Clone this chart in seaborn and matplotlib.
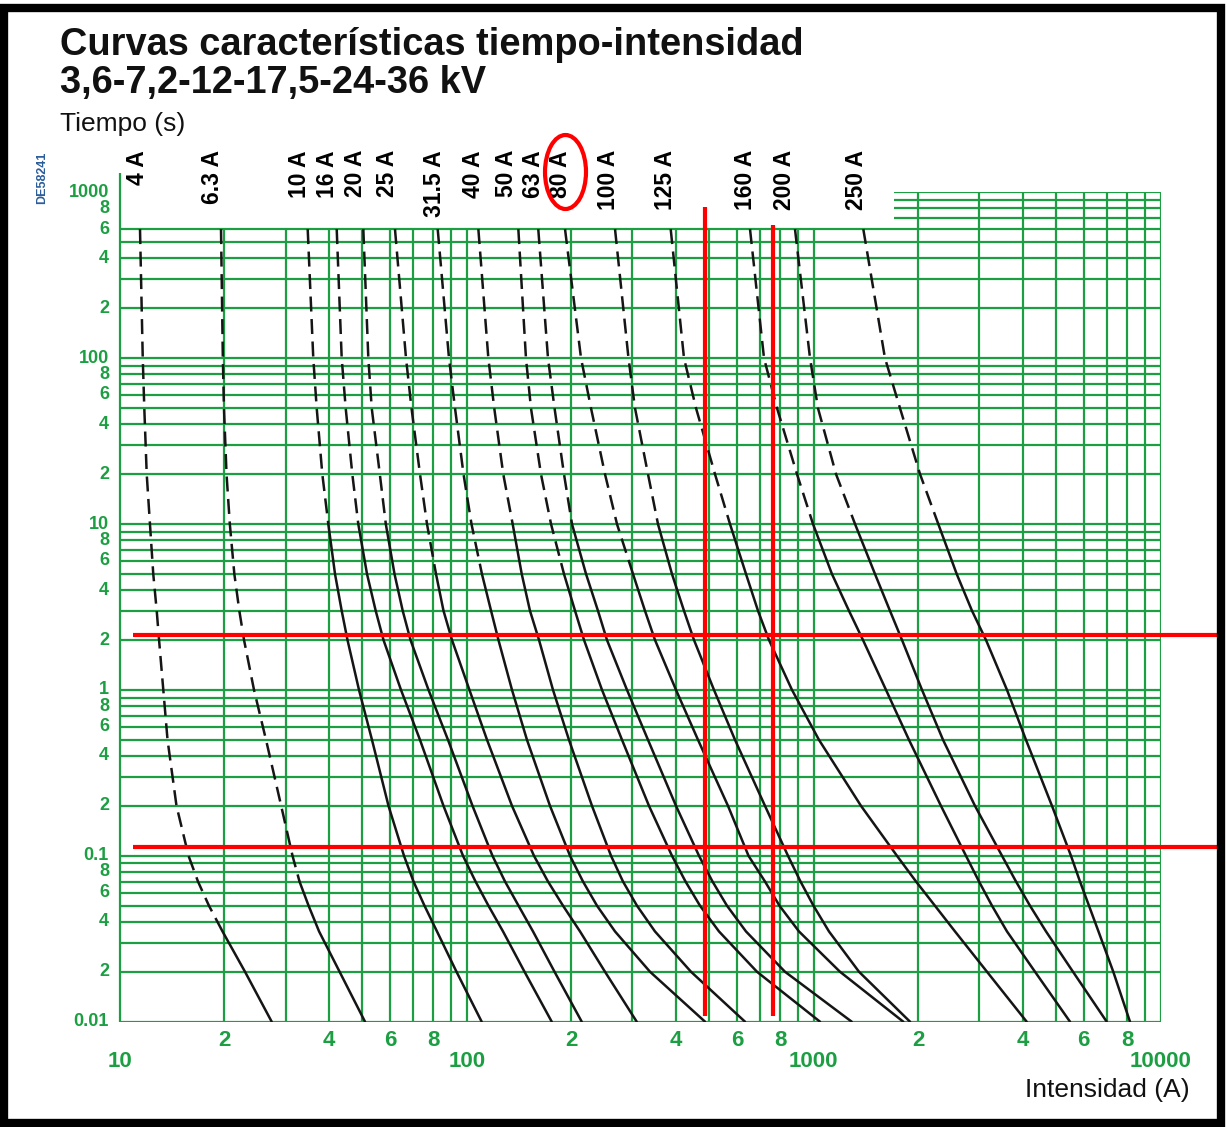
import numpy as np
import pandas as pd
import matplotlib
matplotlib.use("Agg")
import matplotlib.pyplot as plt
import seaborn as sns
from matplotlib.patches import Ellipse, Rectangle
from matplotlib.ticker import NullLocator
from matplotlib.transforms import blended_transform_factory, ScaledTranslation

# ---------------- data ----------------
times_s = [600, 100, 50, 20, 10, 5, 3, 2, 1, 0.5, 0.2, 0.1, 0.07, 0.05, 0.035, 0.02, 0.01]

ratings = ["4 A", "6.3 A", "10 A", "16 A", "20 A", "25 A", "31.5 A", "40 A",
           "50 A", "63 A", "80 A", "100 A", "125 A", "160 A", "200 A", "250 A"]

i_4A = [11.42, 11.63, 11.75, 11.94, 12.20, 12.47, 12.76, 12.96, 13.33, 13.71, 14.55, 15.76, 16.78, 18.05, 19.75, 22.93, 27.37]
i_6A3 = [19.55, 19.79, 19.94, 20.28, 20.73, 21.36, 22.08, 22.78, 24.34, 26.36, 29.15, 31.43, 32.92, 34.97, 37.49, 42.96, 50.85]
i_10A = [34.76, 36.07, 36.90, 38.30, 39.86, 41.67, 43.56, 45.27, 48.86, 53.26, 59.43, 65.87, 70.16, 75.47, 82.00, 93.33, 110.3]
i_16A = [42.14, 43.56, 44.73, 46.74, 48.63, 51.53, 54.59, 57.49, 64.57, 73.25, 85.62, 97.45, 105.9, 115.4, 127.1, 146.6, 175.6]
i_20A = [50.28, 51.98, 53.17, 56.10, 58.38, 61.85, 65.31, 68.78, 77.51, 88.21, 103.8, 118.5, 128.8, 140.9, 155.1, 178.9, 214.3]
i_25A = [62.04, 66.75, 69.23, 73.25, 76.74, 81.46, 85.62, 90.58, 101.7, 114.3, 134.9, 156.1, 171.3, 189.3, 211.9, 250.1, 308.7]
i_31A5 = [82.38, 88.79, 92.41, 97.78, 103.1, 110.5, 117.4, 123.3, 134.9, 149.0, 173.6, 198.3, 216.1, 237.2, 267.3, 337.2, 485.8]
i_40A = [107.9, 115.3, 119.9, 127.3, 135.5, 143.9, 152.0, 161.4, 177.1, 196.9, 229.4, 260.3, 281.8, 309.3, 348.5, 442.6, 633.4]
i_50A = [140.7, 148.0, 153.0, 163.5, 174.8, 190.5, 205.0, 217.6, 245.2, 280.0, 334.9, 390.1, 426.8, 469.9, 533.0, 685.9, 1042]
i_63A = [160.6, 171.3, 178.9, 190.5, 200.9, 220.5, 238.7, 253.4, 289.4, 332.7, 400.7, 466.8, 510.5, 562.1, 637.6, 826.0, 1286]
i_80A = [191.8, 213.3, 227.9, 250.1, 270.8, 301.2, 326.1, 348.5, 400.7, 463.7, 565.8, 648.4, 723.3, 796.4, 906.4, 1190, 1811]
i_100A = [267.3, 292.3, 305.2, 332.7, 355.5, 390.1, 422.5, 451.5, 515.6, 592.8, 723.3, 842.6, 915.5, 998.0, 1106, 1350, 1894]
i_125A = [386.8, 422.5, 457.6, 519.0, 573.4, 637.6, 690.5, 742.8, 865.3, 1035, 1368, 1737, 1971, 2235, 2553, 3157, 4108]
i_160A = [654.8, 718.6, 783.3, 894.5, 994.8, 1128, 1263, 1386, 1615, 1881, 2326, 2746, 2994, 3264, 3605, 4342, 5477]
i_200A = [882.6, 975.2, 1028, 1159, 1315, 1501, 1658, 1796, 2051, 2358, 2915, 3488, 3827, 4200, 4671, 5587, 6988]
i_250A = [1389, 1604, 1772, 2024, 2285, 2582, 2858, 3136, 3605, 4089, 4860, 5513, 5852, 6213, 6617, 7300, 8155]

currents = [i_4A, i_6A3, i_10A, i_16A, i_20A, i_25A, i_31A5, i_40A,
            i_50A, i_63A, i_80A, i_100A, i_125A, i_160A, i_200A, i_250A]

# time below which each curve is drawn solid (dashed above)
solid_below_s = [0.035, 0.07, 10, 10, 10, 5, 5, 10, 5, 10, 5, 10, 10, 10, 10, 10]

ytick_values = [1000, 800, 600, 400, 200, 100, 80, 60, 40, 20, 10, 8, 6, 4, 2,
                1, 0.8, 0.6, 0.4, 0.2, 0.1, 0.08, 0.06, 0.04, 0.02, 0.01]
ytick_labels = ["1000", "8", "6", "4", "2", "100", "8", "6", "4", "2", "10", "8", "6", "4", "2",
                "1", "8", "6", "4", "2", "0.1", "8", "6", "4", "2", "0.01"]
xtick_values = [20, 40, 60, 80, 200, 400, 600, 800, 2000, 4000, 6000, 8000]
xtick_labels = ["2", "4", "6", "8", "2", "4", "6", "8", "2", "4", "6", "8"]
xdecade_values = [10, 100, 1000, 10000]
xdecade_labels = ["10", "100", "1000", "10000"]

red_h_times = [2.15, 0.113]          # horizontal red marker lines (s)
red_v_currents = [485, 762]          # vertical red marker lines (A)
red_v_top = [815, 634]

# horizontal nudge of each rating label relative to its curve top (pixels, styling)
label_dx_px = [-3, -8, -8, -9, -8, -7, -3, -5, -12, -5, -5, -7, -5, -5, -10, -7]

# ---------------- build long table ----------------
rows = []
for name, cur, tsol in zip(ratings, currents, solid_below_s):
    for t, i in zip(times_s, cur):
        if t >= tsol:
            rows.append(dict(rating=name, unit=name + "-d", segment="dashed", current=i, time=t))
        if t <= tsol:
            rows.append(dict(rating=name, unit=name + "-s", segment="solid", current=i, time=t))
df = pd.DataFrame(rows)

# ---------------- figure ----------------
sns.set_theme(style="white")
plt.rcParams["font.family"] = ["Liberation Sans", "DejaVu Sans"]

W, H = 1227, 1127
fig = plt.figure(figsize=(W / 100, H / 100), dpi=100)
fig.patch.set_facecolor("white")
ax = fig.add_axes([120 / W, 1 - 1021.7 / H, 1040.7 / W, 829.4 / H])
ax.set_xscale("log")
ax.set_yscale("log")
ax.set_xlim(10, 10000)
ax.set_ylim(0.01, 1000)
ax.set_facecolor("white")
for s in ax.spines.values():
    s.set_visible(False)

green = "#1c9e42"
glw = 1.6
# vertical grid
for d in [10, 100, 1000]:
    for m in range(1, 10):
        v = m * d
        if v == 10:
            continue
        ax.vlines(v, 0.01, 1000 if v >= 2000 else 600, color=green, lw=glw, zorder=1)
ax.vlines(10000, 0.01, 1000, color=green, lw=glw, zorder=1)
ax.vlines(10, 0.01, 1300, color=green, lw=glw, zorder=1, clip_on=False)
# horizontal grid
for d in [0.01, 0.1, 1, 10, 100]:
    for m in range(1, 10):
        h = m * d
        if h <= 600:
            ax.hlines(h, 10, 10000, color=green, lw=glw, zorder=1)
        else:
            ax.hlines(h, 1700, 10000, color=green, lw=glw, zorder=1)
ax.hlines(1000, 1700, 10000, color=green, lw=glw, zorder=1)

# curves
sns.lineplot(data=df, x="current", y="time", units="unit", estimator=None,
             style="segment", dashes={"dashed": (6, 3), "solid": ""},
             color="#151515", linewidth=1.8, sort=False, legend=False, ax=ax, zorder=3)

# ticks
ax.set_yticks(ytick_values)
ax.set_yticklabels(ytick_labels)
ax.yaxis.set_minor_locator(NullLocator())
ax.set_xticks(xtick_values)
ax.set_xticklabels(xtick_labels)
ax.set_xticks(xdecade_values, minor=True)
ax.set_xticklabels(xdecade_labels, minor=True)
ax.tick_params(axis="both", which="both", length=0, colors=green)
ax.tick_params(axis="y", pad=8, labelsize=13)
ax.tick_params(axis="x", which="major", pad=6, labelsize=16)
ax.tick_params(axis="x", which="minor", pad=21, labelsize=16)
for lab in ax.get_yticklabels():
    lab.set_fontweight("bold")
    lab.set_transform(lab.get_transform() + ScaledTranslation(0, 2 / 100, fig.dpi_scale_trans))
for lab in ax.get_xticklabels() + ax.get_xticklabels(minor=True):
    lab.set_fontweight("bold")
ax.set_xlabel("")
ax.set_ylabel("")

# rating labels at top of each curve
btr = blended_transform_factory(ax.transData, fig.transFigure)
for name, cur, dx in zip(ratings, currents, label_dx_px):
    ax.text(cur[0], 1 - 150 / H, name, rotation=90, ha="center", va="top",
            fontsize=16.5, fontweight="bold", color="black",
            transform=btr + ScaledTranslation(dx / 100, 0, fig.dpi_scale_trans),
            clip_on=False)

# red marker lines
for t in red_h_times:
    ax.hlines(t, 10.9, 14800, color="red", lw=3, zorder=5, clip_on=False)
for c, top in zip(red_v_currents, red_v_top):
    ax.vlines(c, 0.0108, top, color="red", lw=3, zorder=5, clip_on=False)

# red ellipse around 80 A
fig.patches.append(Ellipse((565.5 / W, 1 - 172 / H), 41 / W, 74 / H, transform=fig.transFigure,
                           fill=False, edgecolor="red", lw=3))

# texts
fig.text(60 / W, 1 - 55 / H, "Curvas características tiempo-intensidad", fontsize=27.4,
         fontweight="bold", va="baseline", ha="left", color="#111111")
fig.text(60 / W, 1 - 93 / H, "3,6-7,2-12-17,5-24-36 kV", fontsize=27.4,
         fontweight="bold", va="baseline", ha="left", color="#111111")
fig.text(60 / W, 1 - 131 / H, "Tiempo (s)", fontsize=19, va="baseline", ha="left", color="#111111")
fig.text(1190 / W, 1 - 1090 / H, "Intensidad (A)", fontsize=19, va="center", ha="right", color="#111111")
fig.text(42 / W, 1 - 178 / H, "DE58241", fontsize=9, rotation=90, va="center", ha="center",
         color="#2a5d9a", fontweight="bold")

# black frame
fig.patches.append(Rectangle((4 / W, 4 / H), (W - 10) / W, (H - 12) / H, transform=fig.transFigure,
                             fill=False, edgecolor="black", lw=6))

fig.savefig("out.png", dpi=100)
